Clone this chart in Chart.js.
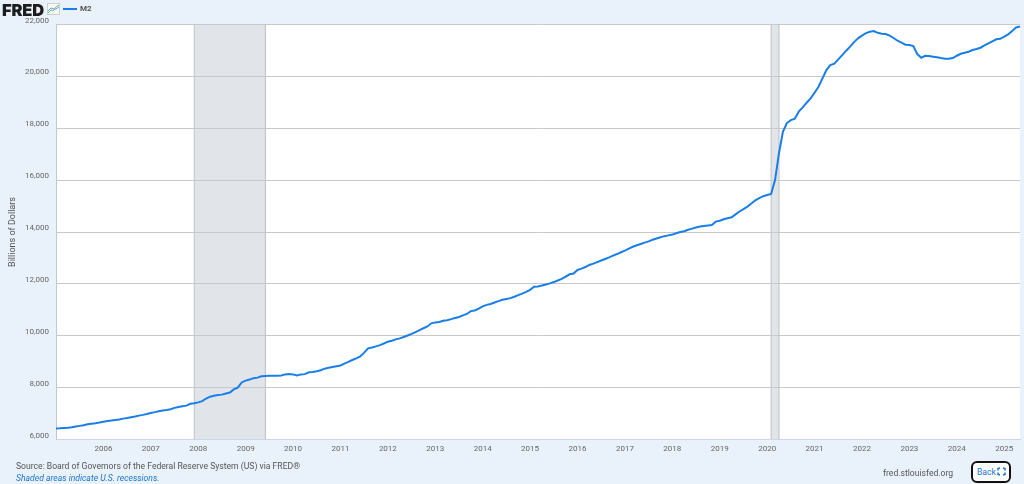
<!DOCTYPE html>
<html>
<head>
<meta charset="utf-8">
<title>M2</title>
<script src="https://cdn.jsdelivr.net/npm/chart.js@4"></script>
<style>
    html, body { margin: 0; padding: 0; }
    body { width: 1024px; height: 484px; background: #e9f2fa; overflow: hidden; position: relative; font-family: Roboto, sans-serif; }
    canvas { position: absolute; left: 0; top: 0; }
    .abs { position: absolute; white-space: nowrap; }
    #logo { left: 2px; top: 1px; font: 900 16.5px/18px Inter, sans-serif; color: #1d1d1f; letter-spacing: -0.2px; }
    #icon { left: 47px; top: 3px; }
    #legendLine { left: 63px; top: 8px; width: 14px; height: 2px; background: #1a7ee8; }
    #legendText { left: 80px; top: 3px; font: bold 8px/12px Roboto, sans-serif; color: #555; }
    #source { left: 16px; top: 460px; font: 8.6px/12px Roboto, sans-serif; color: #555; }
    #note { left: 16px; top: 472px; font: italic 8.6px/12px Roboto, sans-serif; color: #1a73d0; }
    #site { left: 883px; top: 467px; font: 8.6px/12px Roboto, sans-serif; color: #555; }
    #back { left: 971px; top: 461px; width: 36px; height: 18px; background: #fff; border: 2px solid #111; border-radius: 6px; }
    #backText { left: 977px; top: 466px; font: 8.6px/12px Roboto, sans-serif; color: #1a73d0; }
    #backIcon { left: 997px; top: 467px; }
</style>
</head>
<body>
<canvas id="chart" width="1024" height="484"></canvas>
<div class="abs" id="logo">FRED</div>
<svg class="abs" id="icon" width="13" height="12" viewBox="0 0 13 12">
    <rect x="0.5" y="0.5" width="12" height="11" fill="#f4f7f4" stroke="#c9d2cf"/>
    <polyline points="1,10 4,7 6,8 9,4 12,2" fill="none" stroke="#7dbb8e" stroke-width="1"/>
    <polyline points="1,8 4,5 7,6 9,6 12,4" fill="none" stroke="#6aa5dc" stroke-width="1"/>
</svg>
<div class="abs" id="legendLine"></div>
<div class="abs" id="legendText">M2</div>
<div class="abs" id="source">Source: Board of Governors of the Federal Reserve System (US) via FRED®</div>
<div class="abs" id="note">Shaded areas indicate U.S. recessions.</div>
<div class="abs" id="site">fred.stlouisfed.org</div>
<div class="abs" id="back"></div>
<div class="abs" id="backText">Back</div>
<svg class="abs" id="backIcon" width="9" height="9" viewBox="0 0 9 9">
    <path d="M1 3.5 L1 1.5 L3 1 M6 1 L8 1.5 L8 3.5 M1 5.5 L1 7.5 L3 8 M6 8 L8 7.5 L8 5.5" fill="none" stroke="#1a73d0" stroke-width="1.5"/>
</svg>
<script>
// M2, billions of dollars, one row per year, Jan to Dec
const m2_2005 = [6420, 6430, 6445, 6455, 6475, 6500, 6525, 6550, 6585, 6610, 6630, 6655];
const m2_2006 = [6685, 6715, 6730, 6755, 6775, 6805, 6825, 6855, 6885, 6920, 6950, 6985];
const m2_2007 = [7025, 7055, 7090, 7120, 7140, 7165, 7220, 7250, 7280, 7305, 7375, 7395];
const m2_2008 = [7430, 7480, 7580, 7650, 7690, 7715, 7730, 7770, 7810, 7930, 8000, 8200];
const m2_2009 = [8270, 8310, 8365, 8385, 8435, 8450, 8455, 8455, 8460, 8470, 8510, 8525];
const m2_2010 = [8510, 8470, 8510, 8520, 8590, 8600, 8630, 8670, 8730, 8765, 8795, 8825];
const m2_2011 = [8855, 8925, 8995, 9065, 9130, 9200, 9350, 9515, 9550, 9590, 9640, 9700];
const m2_2012 = [9770, 9810, 9860, 9900, 9950, 10010, 10070, 10140, 10220, 10290, 10360, 10480];
const m2_2013 = [10515, 10530, 10575, 10600, 10640, 10685, 10725, 10785, 10840, 10950, 10975, 11045];
const m2_2014 = [11130, 11190, 11225, 11280, 11335, 11385, 11420, 11450, 11505, 11565, 11625, 11690];
const m2_2015 = [11770, 11890, 11900, 11935, 11975, 12020, 12070, 12130, 12190, 12280, 12370, 12400];
const m2_2016 = [12535, 12590, 12650, 12730, 12780, 12840, 12900, 12960, 13020, 13090, 13150, 13220];
const m2_2017 = [13280, 13360, 13430, 13490, 13540, 13590, 13640, 13700, 13750, 13800, 13840, 13870];
const m2_2018 = [13900, 13950, 14000, 14030, 14085, 14130, 14175, 14210, 14230, 14250, 14270, 14400];
const m2_2019 = [14435, 14490, 14530, 14570, 14680, 14790, 14880, 14980, 15100, 15220, 15310, 15380];
const m2_2020 = [15425, 15465, 16000, 17045, 17870, 18200, 18315, 18365, 18640, 18805, 18985, 19150];
const m2_2021 = [19370, 19600, 19925, 20245, 20435, 20490, 20655, 20820, 20990, 21145, 21320, 21465];
const m2_2022 = [21570, 21670, 21720, 21745, 21680, 21645, 21630, 21570, 21480, 21375, 21300, 21220];
const m2_2023 = [21210, 21170, 20860, 20720, 20795, 20785, 20760, 20735, 20705, 20680, 20680, 20705];
const m2_2024 = [20795, 20870, 20910, 20950, 21015, 21055, 21105, 21195, 21270, 21350, 21430, 21450];
const m2_2025 = [21530, 21620, 21745, 21885, 21925];

const years = [2005, 2006, 2007, 2008, 2009, 2010, 2011, 2012, 2013, 2014, 2015,
    2016, 2017, 2018, 2019, 2020, 2021, 2022, 2023, 2024, 2025];
const yearRows = [m2_2005, m2_2006, m2_2007, m2_2008, m2_2009, m2_2010, m2_2011, m2_2012, m2_2013, m2_2014, m2_2015,
    m2_2016, m2_2017, m2_2018, m2_2019, m2_2020, m2_2021, m2_2022, m2_2023, m2_2024, m2_2025];

// [first month, last month] in decimal years
const recessions = [[2007 + 11 / 12, 2009 + 5 / 12], [2020 + 1 / 12, 2020 + 3 / 12]];

const yTicks = [6000, 8000, 10000, 12000, 14000, 16000, 18000, 20000, 22000];

const points = [];
yearRows.forEach((row, i) => {
    row.forEach((v, m) => points.push({ x: years[i] + m / 12, y: v }));
});

// White plot background and the recession bands, under the grid and line
const plotBackground = {
    id: 'plotBackground',
    beforeDraw(chart) {
        const { ctx, chartArea: a, scales: { x } } = chart;
        ctx.save();
        ctx.fillStyle = '#fff';
        ctx.fillRect(a.left, a.top, a.right - a.left, a.bottom - a.top);
        recessions.forEach(([from, to]) => {
            const x0 = x.getPixelForValue(from);
            const x1 = x.getPixelForValue(to);
            ctx.fillStyle = '#e1e5e9';
            ctx.fillRect(x0, a.top, x1 - x0, a.bottom - a.top);
            ctx.fillStyle = '#bcc0c4';
            ctx.fillRect(x0 - 0.5, a.top, 1, a.bottom - a.top);
            ctx.fillRect(x1 - 0.5, a.top, 1, a.bottom - a.top);
        });
        ctx.restore();
    }
};

new Chart(document.getElementById('chart'), {
    type: 'line',
    data: {
        datasets: [{
            label: 'M2',
            data: points,
            borderColor: '#1a7ee8',
            borderWidth: 2,
            pointRadius: 0,
            tension: 0,
            clip: false
        }]
    },
    options: {
        responsive: false,
        animation: false,
        layout: { padding: { top: 24.5, right: 4, left: 0, bottom: 0 } },
        plugins: { legend: { display: false }, tooltip: { enabled: false } },
        scales: {
            x: {
                type: 'linear',
                min: 2005,
                max: 2025 + 4 / 12,
                afterFit(scale) { scale.height = 44.5; },
                afterBuildTicks(scale) { scale.ticks = years.slice(1).map(value => ({ value })); },
                grid: { display: false, drawTicks: false },
                border: { color: '#ccd6eb', width: 1 },
                ticks: {
                    maxRotation: 0,
                    autoSkip: false,
                    padding: 4.5,
                    color: '#666',
                    font: { family: 'Roboto', size: 8 },
                    callback: v => String(v)
                }
            },
            y: {
                min: 6000,
                max: 22000,
                afterFit(scale) { scale.width = 56; },
                afterBuildTicks(scale) { scale.ticks = yTicks.map(value => ({ value })); },
                grid: { color: '#c8c8c8', lineWidth: 1, drawTicks: false },
                border: { color: '#c0c8d4', width: 1 },
                title: {
                    display: true,
                    text: 'Billions of Dollars',
                    color: '#555',
                    font: { family: 'Roboto', size: 9 },
                    padding: { top: 7, bottom: 0 }
                },
                ticks: {
                    padding: 7,
                    color: '#666',
                    font: { family: 'Roboto', size: 8, lineHeight: '8px' },
                    // empty second line lifts the number above its grid line
                    callback: v => [v.toLocaleString('en-US'), '']
                }
            }
        }
    },
    plugins: [plotBackground]
});
</script>
</body>
</html>
